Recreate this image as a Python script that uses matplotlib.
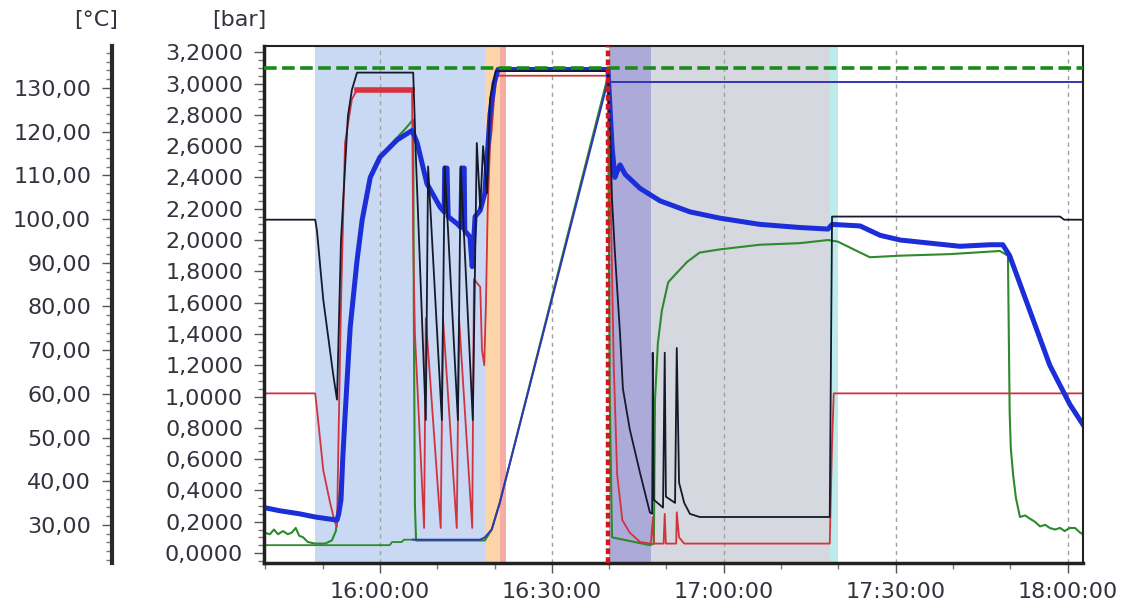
import matplotlib
matplotlib.use("Agg")
import matplotlib.pyplot as plt
import numpy as np
from matplotlib.ticker import FuncFormatter, MultipleLocator, AutoMinorLocator

# time axis: minutes after 15:00:00, values in bar
black_t = [39.8, 48.7, 49.0, 50.1, 51.8, 52.5, 53.2, 54.4, 55.1, 56.0, 65.8,
           66.3, 68.0, 68.4, 70.8, 71.3, 73.6, 74.1, 76.2, 76.9, 77.5, 78.0,
           78.7, 79.2, 80.2, 99.8, 100.3, 100.5, 101.0, 101.9, 102.4, 103.6,
           105.4, 107.1, 107.5, 107.6, 107.8, 109.4, 109.7, 109.9, 111.5,
           111.8, 112.2, 113.1, 114.1, 115.8, 138.5, 138.9, 178.7, 179.4, 182.7]
black_v = [2.13, 2.13, 2.06, 1.62, 1.15, 0.98, 2.0, 2.79, 2.96, 3.07, 3.07,
           2.5, 0.85, 2.47, 0.85, 2.47, 0.85, 2.47, 0.85, 2.62, 2.2, 2.6,
           2.3, 2.9, 3.08, 3.08, 2.5, 2.26, 1.92, 1.4, 1.05, 0.79,
           0.51, 0.26, 0.25, 1.28, 0.34, 0.29, 1.28, 0.36, 0.32,
           1.31, 0.45, 0.32, 0.25, 0.23, 0.23, 2.15, 2.15, 2.13, 2.13]

red_t = [39.8, 48.7, 49.2, 50.1, 51.3, 52.1, 52.5, 52.7, 53.2, 53.9, 55.1,
         56.0, 65.6, 65.8, 66.1, 67.7, 68.0, 70.6, 71.0, 73.4, 73.8, 76.1,
         76.4, 77.5, 77.8, 78.2, 78.5, 78.8, 79.2, 79.5, 79.9, 80.4, 99.8,
         100.3, 100.5, 100.8, 101.4, 102.3, 103.6, 105.4, 107.3, 107.6, 107.8,
         109.5, 109.7, 109.9, 111.7, 111.8, 112.2, 113.1, 138.5, 138.9, 139.2,
         182.7]
red_v = [1.02, 1.02, 0.85, 0.53, 0.32, 0.2, 0.17, 0.6, 1.6, 2.62, 2.9,
         2.96, 2.96, 2.0, 1.4, 0.16, 1.5, 0.16, 1.5, 0.16, 1.5, 0.16,
         1.75, 1.7, 1.3, 1.2, 1.6, 2.2, 2.6, 2.7, 2.9, 3.05, 3.05,
         2.2, 1.8, 1.2, 0.5, 0.21, 0.13, 0.07, 0.06, 0.23, 0.06,
         0.06, 0.25, 0.06, 0.06, 0.26, 0.1, 0.06, 0.06, 0.7, 1.02,
         1.02]

blue_t = [39.8, 42.5, 46.0, 48.7, 52.5, 52.8, 53.2, 53.5, 53.9, 54.4, 54.8,
          55.3, 56.0, 56.9, 58.3, 60.0, 63.0, 65.6, 66.5, 68.2, 70.5, 71.2,
          71.3, 71.7, 71.9, 73.6, 74.1, 74.3, 74.7, 74.8, 75.7, 76.1, 76.6,
          77.5, 78.3, 79.2, 79.9, 80.6, 99.8, 100.5, 101.0, 101.5, 101.9,
          102.8, 105.4, 108.9, 114.1, 119.3, 126.3, 133.3, 138.2, 138.9,
          143.8, 147.3, 150.8, 156.0, 161.2, 166.5, 168.7, 169.9, 173.4,
          176.9, 180.4, 182.7]
blue_v = [0.29, 0.27, 0.25, 0.23, 0.21, 0.25, 0.34, 0.6, 0.87, 1.19, 1.44,
          1.62, 1.87, 2.13, 2.40, 2.53, 2.64, 2.70, 2.62, 2.36, 2.21, 2.18,
          2.46, 2.46, 2.15, 2.10, 2.08, 2.46, 2.46, 2.06, 2.02, 1.83, 2.15,
          2.19, 2.3, 2.8, 3.0, 3.09, 3.09, 2.6, 2.40, 2.45, 2.48,
          2.42, 2.33, 2.25, 2.18, 2.14, 2.10, 2.08, 2.07, 2.10,
          2.09, 2.03, 2.0, 1.98, 1.96, 1.97, 1.97, 1.9, 1.55,
          1.2, 0.95, 0.82]

green_t = [39.8, 40.8, 41.5, 42.2, 43.1, 43.9, 44.6, 45.3, 45.9, 46.6, 47.4,
           48.7, 50.4, 51.6, 52.3, 52.7, 53.0, 53.5, 54.1, 54.8, 55.8, 57.0,
           58.6, 60.5, 62.6, 64.4, 65.8, 65.9, 66.1, 66.3, 78.3, 79.5, 80.9,
           99.8, 100.1, 100.5, 107.1, 107.8, 108.0, 108.5, 109.2, 110.3, 111.8,
           113.6, 115.8, 119.3, 126.3, 133.3, 138.2, 139.9, 143.8, 145.5,
           150.8, 159.5, 168.2, 169.6, 169.9, 170.1, 170.5, 171.0, 171.7,
           172.6, 173.4, 174.3, 175.2, 176.1, 176.9, 177.8, 178.7, 179.5,
           180.4, 181.3, 182.2, 182.7]
green_v = [0.13, 0.12, 0.15, 0.12, 0.14, 0.12, 0.13, 0.16, 0.11, 0.10, 0.07,
           0.06, 0.06, 0.08, 0.14, 0.3, 0.4, 0.6, 0.95, 1.44, 1.85, 2.15,
           2.42, 2.55, 2.64, 2.71, 2.77, 1.6, 0.3, 0.08, 0.08, 0.15, 0.32,
           3.05, 1.0, 0.1, 0.05, 0.06, 0.98, 1.34, 1.55, 1.73, 1.79,
           1.86, 1.92, 1.94, 1.97, 1.98, 2.0, 1.99, 1.92, 1.89,
           1.90, 1.91, 1.93, 1.90, 0.9, 0.67, 0.5, 0.35, 0.23,
           0.24, 0.22, 0.2, 0.17, 0.18, 0.16, 0.15, 0.16, 0.14,
           0.16, 0.16, 0.13, 0.12]

green_sp_t = [39.8, 61.7, 62.1, 63.8, 64.2, 65.8]
green_sp_v = [0.05, 0.05, 0.07, 0.07, 0.085, 0.085]

blue_sp_t = [65.8, 77.5, 78.3, 79.5, 80.9, 99.8, 100.3, 182.7]
blue_sp_v = [0.085, 0.085, 0.1, 0.15, 0.32, 3.02, 3.01, 3.01]

limit_bar = 3.10
marker_time = 99.8

phases = [
    (48.7, 78.3, "#c9d8f3"),
    (78.3, 80.9, "#fcd4a8"),
    (80.9, 82.0, "#f5aca2"),
    (99.9, 107.3, "#abaad8"),
    (107.3, 138.5, "#d5d8de"),
    (138.5, 139.9, "#bdebea"),
]

bar_ticks = np.arange(0, 3.21, 0.2)
degc_ticks = np.arange(30, 131, 10)

TXT = "#33333f"
FS = 16


def fmt_time(m, pos):
    total = int(round(15 * 3600 + m * 60))
    h, rest = divmod(total, 3600)
    mm, ss = divmod(rest, 60)
    return f"{h:02d}:{mm:02d}:{ss:02d}"


def draw():
    fig = plt.figure(figsize=(11.25, 6.05), dpi=100)
    ax = fig.add_axes([264 / 1125, 42 / 605, 819 / 1125, 517 / 605])
    ax.set_xlim(39.76, 182.7)
    ax.set_ylim(-0.064, 3.24)

    for start, end, col in phases:
        ax.axvspan(start, end, color=col, lw=0, zorder=0.5)

    ax.xaxis.set_major_locator(MultipleLocator(30))
    ax.xaxis.set_minor_locator(MultipleLocator(10))
    ax.xaxis.set_major_formatter(FuncFormatter(fmt_time))
    ax.grid(True, axis="x", which="major", color="#a0a0a0",
            linestyle=(0, (3, 3)), linewidth=1.0)

    ax.set_yticks(bar_ticks)
    ax.yaxis.set_minor_locator(AutoMinorLocator(4))
    ax.yaxis.set_major_formatter(
        FuncFormatter(lambda v, p: f"{v:.4f}".replace(".", ",")))

    ax.plot(green_sp_t, green_sp_v, color="#2d8a2d", lw=1.3, zorder=2)
    ax.plot(green_t, green_v, color="#2d8a2d", lw=1.5, zorder=2.1)
    ax.plot(blue_sp_t, blue_sp_v, color="#3434b8", lw=1.4, zorder=2.2)
    ax.plot(red_t, red_v, color="#d0343f", lw=1.3, zorder=2.3)
    # noisy red plateau drawn thicker
    ax.plot(red_t[11:13], red_v[11:13], color="#d8323c", lw=4, zorder=2.3)
    ax.plot(blue_t, blue_v, color="#1c2ed8", lw=3.6, zorder=2.4,
            solid_joinstyle="round")
    ax.plot(black_t, black_v, color="#141a2c", lw=1.3, zorder=2.5)

    ax.axhline(limit_bar, color="#1a8a1a", lw=2.6,
               linestyle=(0, (3.5, 1.5)), zorder=4)
    ax.axvline(marker_time, color="#d01818", lw=3.2,
               linestyle=(0, (1.3, 0.7)), zorder=4)

    for side in ["left", "bottom"]:
        ax.spines[side].set_linewidth(2.5)
        ax.spines[side].set_color("#222222")
    for side in ["top", "right"]:
        ax.spines[side].set_linewidth(1.5)
        ax.spines[side].set_color("#222222")

    ax.tick_params(axis="both", which="major", length=7, width=1,
                   color="#555555", labelsize=FS, labelcolor=TXT)
    ax.tick_params(axis="y", which="major", pad=8)
    ax.tick_params(axis="x", which="major", pad=7)
    ax.tick_params(axis="both", which="minor", length=4, width=1,
                   color="#777777")

    # temperature axis, its spine moved out to the left
    axc = ax.twinx()
    axc.set_ylim(21.3, 139.6)
    axc.yaxis.tick_left()
    axc.spines["left"].set_position(("outward", 152 * 0.72))
    axc.spines["left"].set_linewidth(3)
    axc.spines["left"].set_color("#2a2a2a")
    for side in ["right", "top", "bottom"]:
        axc.spines[side].set_visible(False)
    axc.set_yticks(degc_ticks)
    axc.yaxis.set_minor_locator(AutoMinorLocator(5))
    axc.yaxis.set_major_formatter(
        FuncFormatter(lambda v, p: f"{v:.2f}".replace(".", ",")))
    axc.tick_params(axis="y", which="major", length=7, width=1,
                    color="#555555", labelsize=FS, labelcolor=TXT, pad=8)
    axc.tick_params(axis="y", which="minor", length=4, width=1,
                    color="#777777")

    fig.text(118 / 1125, 1 - 20 / 605, "[°C]", ha="right", va="center",
             fontsize=FS, color=TXT)
    fig.text(266 / 1125, 1 - 20 / 605, "[bar]", ha="right", va="center",
             fontsize=FS, color=TXT)

    fig.savefig("out.png", dpi=100)


if __name__ == "__main__":
    draw()
